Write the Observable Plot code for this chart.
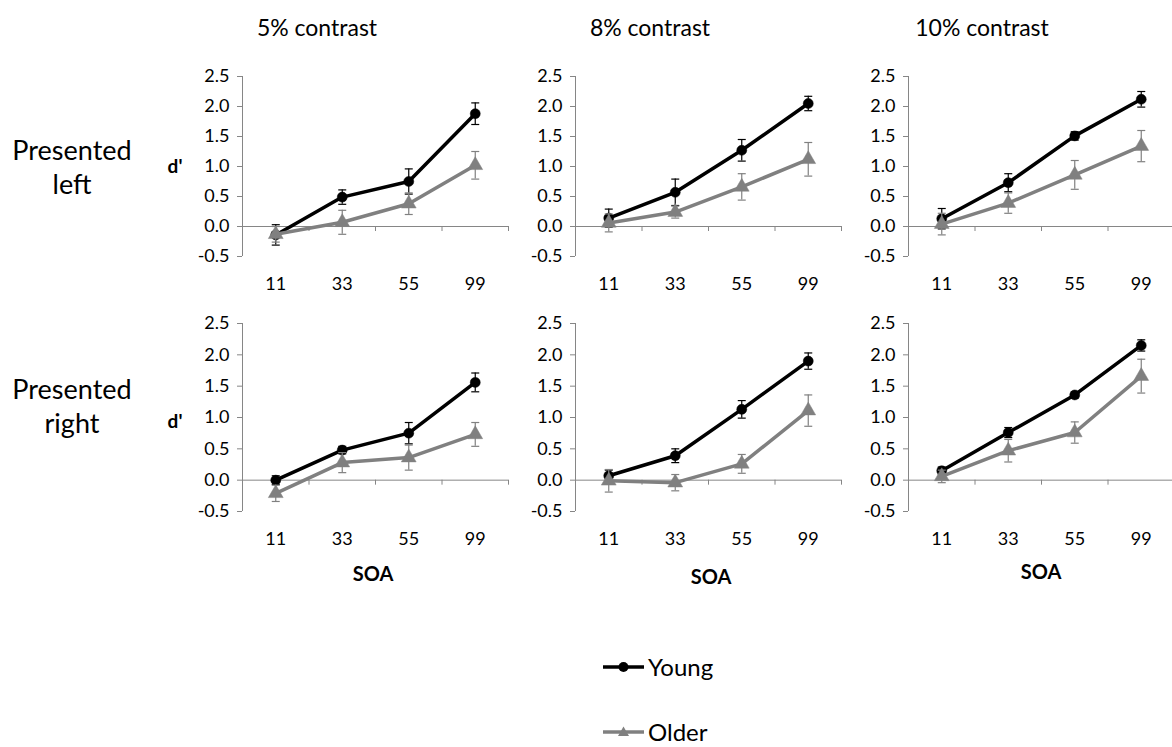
<!DOCTYPE html>
<html>
<head>
<meta charset="utf-8">
<script src="https://cdn.jsdelivr.net/npm/d3@7"></script>
<script src="https://cdn.jsdelivr.net/npm/@observablehq/plot@0.6"></script>
<style>
  html, body { margin: 0; padding: 0; background: #fff; }
  #wrap { position: relative; width: 1172px; height: 747px; overflow: hidden; font-family: Lato, "Open Sans", sans-serif; color: #000; }
  .lbl { position: absolute; white-space: nowrap; transform: translate(-50%, -50%); line-height: 1; }
  .panel { position: absolute; }
  .panel svg { max-width: none !important; }
  .leg { position: absolute; display: flex; align-items: center; font-size: 24px; line-height: 1; transform: translateY(-50%); }
  .leg svg { margin-right: 4px; }
</style>
</head>
<body>
<div id="wrap"></div>
<script>
// ---- data ----
const soa = ["11", "33", "55", "99"];
const yTicks = [-0.5, 0, 0.5, 1, 1.5, 2, 2.5];
const contrasts = ["5% contrast", "8% contrast", "10% contrast"];
const sidesTop = ["Presented", "Presented"];
const sidesBottom = ["left", "right"];
const seriesNames = ["Young", "Older"];

// Presented left
const youngLeft5 = [-0.14, 0.49, 0.75, 1.88];
const youngLeft5Err = [0.17, 0.12, 0.21, 0.18];
const olderLeft5 = [-0.13, 0.07, 0.38, 1.02];
const olderLeft5Err = [0.13, 0.20, 0.18, 0.23];
const youngLeft8 = [0.14, 0.57, 1.27, 2.05];
const youngLeft8Err = [0.15, 0.22, 0.18, 0.12];
const olderLeft8 = [0.06, 0.24, 0.66, 1.12];
const olderLeft8Err = [0.15, 0.10, 0.22, 0.28];
const youngLeft10 = [0.13, 0.73, 1.51, 2.12];
const youngLeft10Err = [0.17, 0.15, 0.07, 0.13];
const olderLeft10 = [0.04, 0.39, 0.86, 1.34];
const olderLeft10Err = [0.18, 0.17, 0.24, 0.26];
// Presented right
const youngRight5 = [0.00, 0.48, 0.75, 1.56];
const youngRight5Err = [0.07, 0.06, 0.17, 0.15];
const olderRight5 = [-0.21, 0.28, 0.36, 0.73];
const olderRight5Err = [0.13, 0.16, 0.20, 0.19];
const youngRight8 = [0.07, 0.39, 1.13, 1.90];
const youngRight8Err = [0.09, 0.11, 0.14, 0.13];
const olderRight8 = [-0.01, -0.04, 0.26, 1.11];
const olderRight8Err = [0.18, 0.13, 0.15, 0.25];
const youngRight10 = [0.15, 0.76, 1.36, 2.15];
const youngRight10Err = [0.06, 0.08, 0.05, 0.09];
const olderRight10 = [0.06, 0.47, 0.76, 1.66];
const olderRight10Err = [0.10, 0.18, 0.17, 0.27];

const panels = [
  [[youngLeft5, youngLeft5Err, olderLeft5, olderLeft5Err],
   [youngLeft8, youngLeft8Err, olderLeft8, olderLeft8Err],
   [youngLeft10, youngLeft10Err, olderLeft10, olderLeft10Err]],
  [[youngRight5, youngRight5Err, olderRight5, olderRight5Err],
   [youngRight8, youngRight8Err, olderRight8, olderRight8Err],
   [youngRight10, youngRight10Err, olderRight10, olderRight10Err]]
];

// ---- layout / style ----
const AX = "#868686";
const BLACK = "#000000";
const GRAY = "#808080";
const colAxisX = [242, 575, 908];
const rowTopY = [76, 323];
const rowInnerH = [180, 188];
const innerW = 266;
const mL = 50, mR = 10, mT = 10, mB = 40;

const wrap = document.getElementById("wrap");

function toRows(vals, errs) {
  return soa.map((s, i) => ({soa: s, m: vals[i], e: errs[i]}));
}
const xOf = d => soa.indexOf(d.soa) + 0.5;

function seriesMarks(rows, color, symbol, r, lw, capHalf) {
  return [
    Plot.line(rows, {x: xOf, y: "m", stroke: color, strokeWidth: lw, strokeLinejoin: "round"}),
    Plot.dot(rows, {x: xOf, y: "m", r, fill: color, stroke: color, strokeWidth: 0.5, symbol}),
    Plot.ruleX(rows, {x: xOf, y1: d => d.m - d.e, y2: d => d.m + d.e, stroke: color, strokeWidth: 1.2}),
    Plot.link(rows, {x1: d => xOf(d) - capHalf, x2: d => xOf(d) + capHalf, y1: d => d.m + d.e, y2: d => d.m + d.e, stroke: color, strokeWidth: 1.2}),
    Plot.link(rows, {x1: d => xOf(d) - capHalf, x2: d => xOf(d) + capHalf, y1: d => d.m - d.e, y2: d => d.m - d.e, stroke: color, strokeWidth: 1.2})
  ];
}

for (let r = 0; r < 2; r++) {
  for (let c = 0; c < 3; c++) {
    const [yv, ye, ov, oe] = panels[r][c];
    const H = rowInnerH[r];
    const ppu = H / 3;              // pixels per d' unit
    const ppx = innerW / 4;         // pixels per category slot
    const capHalf = 4 / ppx;
    const W = mL + innerW + mR;
    const chart = Plot.plot({
      width: W,
      height: mT + H + mB,
      marginLeft: mL, marginRight: mR, marginTop: mT, marginBottom: mB,
      style: {fontFamily: "Lato, 'Open Sans', sans-serif", fontSize: "18px", background: "transparent", overflow: "visible", color: "#000", maxWidth: "none"},
      x: {domain: [0, 4]},
      y: {domain: [-0.5, 2.5]},
      marks: [
        Plot.ruleX([0], {stroke: AX, strokeWidth: 1}),
        Plot.ruleY([0], {stroke: AX, strokeWidth: 1}),
        Plot.ruleX([1, 2, 3, 4], {y1: 0, y2: -5 / ppu, stroke: AX, strokeWidth: 1}),
        Plot.axisY({ticks: yTicks, tickSize: 5, tickPadding: 8, tickFormat: d => d.toFixed(1), stroke: AX, fill: "#000", fontSize: 18, label: null}),
        Plot.axisX({ticks: [0.5, 1.5, 2.5, 3.5], tickSize: 0, tickPadding: 21, tickFormat: d => soa[Math.floor(d)], fill: "#000", fontSize: 18, label: null}),
        ...seriesMarks(toRows(yv, ye), BLACK, "circle", 5, 3.5, capHalf),
        ...seriesMarks(toRows(ov, oe), GRAY, "triangle", 5.5, 3.5, capHalf)
      ]
    });
    const holder = document.createElement("div");
    holder.className = "panel";
    holder.style.left = (colAxisX[c] - mL) + "px";
    holder.style.top = (rowTopY[r] - mT) + "px";
    holder.style.width = W + "px";
    holder.appendChild(chart);
    wrap.appendChild(holder);
  }
}

function label(text, x, y, size, bold) {
  const d = document.createElement("div");
  d.className = "lbl";
  d.textContent = text;
  d.style.left = x + "px";
  d.style.top = y + "px";
  d.style.fontSize = size + "px";
  if (bold) d.style.fontWeight = "bold";
  wrap.appendChild(d);
}

// column titles
const titleX = [317, 650, 982];
contrasts.forEach((t, i) => label(t, titleX[i], 27, 23, false));
// row labels
label(sidesTop[0], 72, 149, 27, false);
label(sidesBottom[0], 72, 183, 27, false);
label(sidesTop[1], 72, 388, 27, false);
label(sidesBottom[1], 72, 422, 27, false);
// y labels
label("d'", 175, 165, 19, true);
label("d'", 175, 420, 19, true);
// SOA
const soaX = [373, 711, 1041];
const soaY = [573, 576, 571];
soaX.forEach((x, i) => label("SOA", x, soaY[i], 20, true));

// legend
function legendItem(name, color, shape, y) {
  const d = document.createElement("div");
  d.className = "leg";
  d.style.left = "603px";
  d.style.top = y + "px";
  const ns = "http://www.w3.org/2000/svg";
  const svg = document.createElementNS(ns, "svg");
  svg.setAttribute("width", "41");
  svg.setAttribute("height", "14");
  const ln = document.createElementNS(ns, "line");
  ln.setAttribute("x1", "0"); ln.setAttribute("x2", "41");
  ln.setAttribute("y1", "7"); ln.setAttribute("y2", "7");
  ln.setAttribute("stroke", color); ln.setAttribute("stroke-width", "3.5");
  svg.appendChild(ln);
  let m;
  if (shape === "circle") {
    m = document.createElementNS(ns, "circle");
    m.setAttribute("cx", "20.5"); m.setAttribute("cy", "7"); m.setAttribute("r", "5");
  } else {
    m = document.createElementNS(ns, "path");
    m.setAttribute("d", "M20.5,1.5 L26,11 L15,11 Z");
  }
  m.setAttribute("fill", color);
  svg.appendChild(m);
  d.appendChild(svg);
  const t = document.createElement("span");
  t.textContent = name;
  d.appendChild(t);
  wrap.appendChild(d);
}
legendItem(seriesNames[0], BLACK, "circle", 667);
legendItem(seriesNames[1], GRAY, "triangle", 732);
</script>
</body>
</html>
